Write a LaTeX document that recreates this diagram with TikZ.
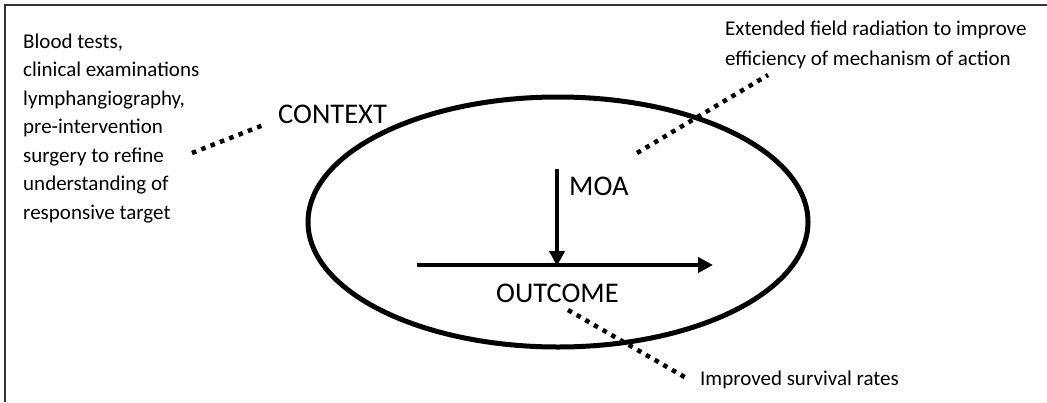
\documentclass[tikz,border=0pt]{standalone}
\usepackage{fontspec}
\setmainfont{Carlito}
\usetikzlibrary{shapes.geometric,arrows.meta}
\tikzset{
  small/.style={font=\fontsize{21}{28.5}\selectfont, inner sep=0pt, align=left},
  big/.style={font=\fontsize{28.5}{32}\selectfont, inner sep=0pt},
  dotline/.style={line width=4.5pt, dash pattern=on 4.5pt off 5.5pt},
  bigarrow/.style={line width=4.5pt, -{Triangle[length=15pt,width=15pt]}},
  frame/.style={draw=black!80, line width=1.5pt}
}
\begin{document}
\begin{tikzpicture}[x=1pt,y=-1pt]
\useasboundingbox (0,0) rectangle (1047,402);
\draw[frame] (5,402) -- (5,5) -- (1047,5);
% ellipse
\node[ellipse, draw, line width=5pt, minimum width=500pt, minimum height=250pt] (ell) at (558,222) {};
% texts
\node[small, anchor=base west] (ctxtext) at (23,219) {Blood tests,\\clinical examinations\\lymphangiography,\\pre-intervention\\surgery to refine\\understanding of\\responsive target};
\node[small, anchor=base west, font=\fontsize{21}{30}\selectfont] (moatext) at (725,65) {Extended field radiation to improve\\efficiency of mechanism of action};
\node[small, anchor=base west] (outtext) at (700,385) {Improved survival rates};
\node[big, anchor=base west] (ctx) at (278,123) {CONTEXT};
\node[big, anchor=base west] (moa) at (569,195) {MOA};
\node[big, anchor=base west] (out) at (496,302) {OUTCOME};
% arrows
\coordinate (hs) at (417,265);
\coordinate (he) at (713,265);
\coordinate (vs) at (557,169);
\coordinate (ve) at (557,266);
\draw[bigarrow] (hs) -- (he);
\draw[bigarrow] (vs) -- (ve);
% dotted connectors
\coordinate (c1) at (192,153);
\coordinate (c2) at (266,124);
\coordinate (m1) at (637,153);
\coordinate (m2) at (768,75);
\coordinate (o1) at (568,310);
\coordinate (o2) at (688,379);
\draw[dotline] (c1) -- (c2);
\draw[dotline] (m1) -- (m2);
\draw[dotline] (o1) -- (o2);
\end{tikzpicture}
\end{document}
